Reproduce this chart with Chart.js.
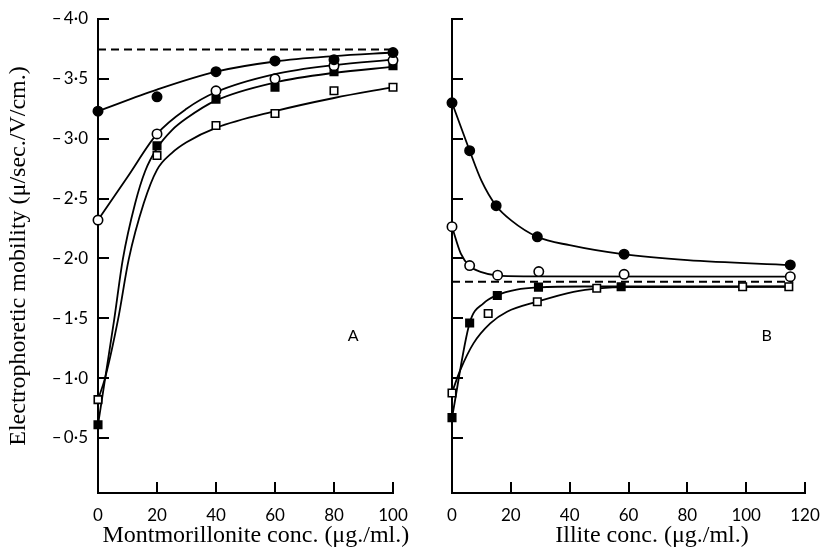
<!DOCTYPE html>
<html>
<head>
<meta charset="utf-8">
<title>Electrophoretic mobility vs clay concentration</title>
<script src="https://cdn.jsdelivr.net/npm/chart.js@4.4.1/dist/chart.umd.min.js"></script>
<style>
  body { margin: 0; background: #fff; }
  #wrap { position: relative; width: 821px; height: 554px; }
  #wrap canvas { position: absolute; top: 0; }
  #chartA { left: 0; }
  #chartB { left: 420px; }
</style>
</head>
<body>
<div id="wrap">
  <canvas id="chartA" width="420" height="554"></canvas>
  <canvas id="chartB" width="401" height="554"></canvas>
</div>
<script>
// --- Axis ticks ---
const yTicks = [-4.0, -3.5, -3.0, -2.5, -2.0, -1.5, -1.0, -0.5];
const xTicksA = [0, 20, 40, 60, 80, 100];
const xTicksB = [0, 20, 40, 60, 80, 100, 120];

// --- Panel A: montmorillonite, measured points ---
const concA = [0, 20, 40, 60, 80, 100];
const solidCircleA = [-3.23, -3.35, -3.56, -3.65, -3.66, -3.72];
const openCircleA = [-2.32, -3.04, -3.40, -3.50, -3.61, -3.655];
const solidSquareA = [-0.61, -2.94, -3.33, -3.43, -3.56, -3.61];
const openSquareA = [-0.82, -2.86, -3.11, -3.21, -3.40, -3.43];

// Panel A fitted curves [conc, mobility]
const fitSolidCircleA = [[0, -3.23], [20, -3.41], [40, -3.56], [60, -3.645], [80, -3.69], [100, -3.72]];
const fitOpenCircleA = [[0, -2.32], [10, -2.68], [20, -3.04], [30, -3.25], [40, -3.39], [60, -3.54], [80, -3.615], [100, -3.66]];
const fitSolidSquareA = [[0, -0.61], [2.5, -1.01], [5.5, -1.49], [8.4, -1.99], [12.6, -2.46], [16, -2.73], [20, -2.92],
  [25, -3.07], [30, -3.17], [40, -3.32], [60, -3.47], [80, -3.55], [100, -3.60]];
const fitOpenSquareA = [[0, -0.82], [2.5, -1.01], [6.8, -1.49], [10.4, -1.99], [15.5, -2.46], [20, -2.74], [25, -2.88],
  [30, -2.97], [40, -3.09], [60, -3.23], [80, -3.34], [100, -3.43]];
const limitA = [[0, -3.745], [100, -3.745]];

// --- Panel B: illite, measured points ---
const solidCircleBx = [0, 6, 15, 29, 58.5, 115];
const solidCircleBy = [-3.30, -2.90, -2.44, -2.18, -2.035, -1.945];
const openCircleBx = [0, 6, 15.5, 29.5, 58.5, 115];
const openCircleBy = [-2.265, -1.94, -1.86, -1.89, -1.867, -1.847];
const solidSquareBx = [0, 6, 15.4, 29.4, 57.5];
const solidSquareBy = [-0.67, -1.46, -1.69, -1.76, -1.763];
const openSquareBx = [0, 12.3, 29, 49.2, 98.8, 114.5];
const openSquareBy = [-0.876, -1.54, -1.638, -1.75, -1.763, -1.763];

// Panel B fitted curves [conc, mobility]
const fitSolidCircleB = [[0, -3.30], [3, -3.10], [6, -2.90], [10, -2.65], [15, -2.44], [20, -2.32], [29, -2.18],
  [40, -2.11], [58, -2.035], [80, -1.985], [115, -1.945]];
const fitOpenCircleB = [[0, -2.265], [3, -2.04], [6, -1.935], [10, -1.885], [15, -1.858], [25, -1.85], [115, -1.847]];
const fitSolidSquareB = [[0, -0.67], [6, -1.46], [10.7, -1.625], [15.4, -1.694], [22, -1.74], [29.4, -1.758],
  [45, -1.765], [115, -1.765]];
const fitOpenSquareB = [[0, -0.88], [2.8, -1.066], [7.3, -1.29], [13, -1.457], [18.7, -1.554], [28.9, -1.638],
  [41.3, -1.721], [50, -1.75], [60, -1.76], [115, -1.763]];
const limitB = [[0, -1.805], [116, -1.805]];

// --- Helpers ---
const TICK_FONT = { family: 'Lato', size: 17 };
const TITLE_FONT = { family: 'Liberation Serif', size: 24 };

const toXY = pairs => pairs.map(([x, y]) => ({ x, y }));
const zip = (xs, ys) => xs.map((x, i) => ({ x, y: ys[i] }));
const fmtMobility = v => '\u2013\u2009' + Math.abs(v).toFixed(1).replace('.', '\u00b7');

const curve = (pairs, dash) => ({
  data: toXY(pairs),
  showLine: true,
  borderColor: '#000',
  borderWidth: dash ? 2 : 1.8,
  borderDash: dash || [],
  pointRadius: 0,
  cubicInterpolationMode: 'monotone',
  clip: false,
  order: 2
});

const markers = (points, shape, filled) => ({
  data: points,
  showLine: false,
  pointStyle: shape,
  pointRadius: shape === 'rect' ? 5.3 : 4.7,
  pointBorderWidth: 1.6,
  pointBorderColor: '#000',
  pointBackgroundColor: filled ? '#000' : '#fff',
  clip: false,
  order: 1
});

// Panel letter and x-axis caption, positioned on the chart's own scales
const captions = {
  id: 'captions',
  afterDraw(chart, args, opts) {
    const { ctx } = chart;
    const { x, y } = chart.scales;
    ctx.save();
    ctx.fillStyle = '#000';
    ctx.textAlign = 'center';
    ctx.textBaseline = 'middle';
    ctx.font = '16px Lato';
    ctx.fillText(opts.letter, x.getPixelForValue(opts.letterAt[0]), y.getPixelForValue(opts.letterAt[1]));
    ctx.font = '24px "Liberation Serif"';
    ctx.textBaseline = 'alphabetic';
    ctx.fillText(opts.title, x.getPixelForValue(opts.titleAt), x.bottom - 12);
    ctx.restore();
  }
};

function buildOptions(cfg) {
  return {
    responsive: false,
    animation: false,
    layout: { padding: { top: 19, right: cfg.rightPad, left: 0, bottom: 0 } },
    plugins: {
      legend: { display: false },
      tooltip: { enabled: false },
      captions: cfg.captions
    },
    scales: {
      x: {
        type: 'linear',
        min: 0,
        max: cfg.xMax,
        afterBuildTicks: s => { s.ticks = cfg.xTicks.map(v => ({ value: v })); },
        // fixed axis band; the layout padding alone sets the plot edges
        afterFit: s => { s.height = 61; s.paddingLeft = 0; s.paddingRight = 0; },
        ticks: { padding: 23, color: '#000', font: TICK_FONT, maxRotation: 0 },
        grid: { drawOnChartArea: false, tickLength: -11, color: '#000', lineWidth: 2 },
        border: { color: '#000', width: 2 }
      },
      y: {
        type: 'linear',
        min: -4,
        max: -0.04,
        reverse: true,
        afterBuildTicks: s => { s.ticks = yTicks.map(v => ({ value: v })); },
        afterFit: s => { s.width = cfg.yWidth; s.paddingTop = 0; s.paddingBottom = 0; },
        ticks: { display: cfg.yLabels, padding: 21, color: '#000', font: TICK_FONT, callback: fmtMobility },
        grid: { drawOnChartArea: false, tickLength: -11, color: '#000', lineWidth: 2 },
        border: { color: '#000', width: 2 },
        title: {
          display: cfg.yLabels,
          text: 'Electrophoretic mobility (\u03bc/sec./V/cm.)',
          color: '#000',
          font: TITLE_FONT,
          padding: { top: 4, bottom: 0 }
        }
      }
    }
  };
}

// --- Panel A ---
new Chart(document.getElementById('chartA'), {
  type: 'scatter',
  data: {
    datasets: [
      curve(limitA, [8, 5]),
      curve(fitSolidCircleA),
      curve(fitOpenCircleA),
      curve(fitSolidSquareA),
      curve(fitOpenSquareA),
      markers(zip(concA, solidCircleA), 'circle', true),
      markers(zip(concA, openCircleA), 'circle', false),
      markers(zip(concA, solidSquareA), 'rect', true),
      markers(zip(concA, openSquareA), 'rect', false)
    ]
  },
  options: buildOptions({
    xMax: 100, xTicks: xTicksA, yWidth: 98, yLabels: true, rightPad: 27,
    captions: { letter: 'A', letterAt: [86.5, -1.35], title: 'Montmorillonite conc. (\u03bcg./ml.)', titleAt: 53.5 }
  }),
  plugins: [captions]
});

// --- Panel B ---
new Chart(document.getElementById('chartB'), {
  type: 'scatter',
  data: {
    datasets: [
      curve(limitB, [8, 5]),
      curve(fitSolidCircleB),
      curve(fitOpenCircleB),
      curve(fitSolidSquareB),
      curve(fitOpenSquareB),
      markers(zip(solidCircleBx, solidCircleBy), 'circle', true),
      markers(zip(openCircleBx, openCircleBy), 'circle', false),
      markers(zip(solidSquareBx, solidSquareBy), 'rect', true),
      markers(zip(openSquareBx, openSquareBy), 'rect', false)
    ]
  },
  options: buildOptions({
    xMax: 120, xTicks: xTicksB, yWidth: 32, yLabels: false, rightPad: 16,
    captions: { letter: 'B', letterAt: [107, -1.35], title: 'Illite conc. (\u03bcg./ml.)', titleAt: 68 }
  }),
  plugins: [captions]
});
</script>
</body>
</html>
